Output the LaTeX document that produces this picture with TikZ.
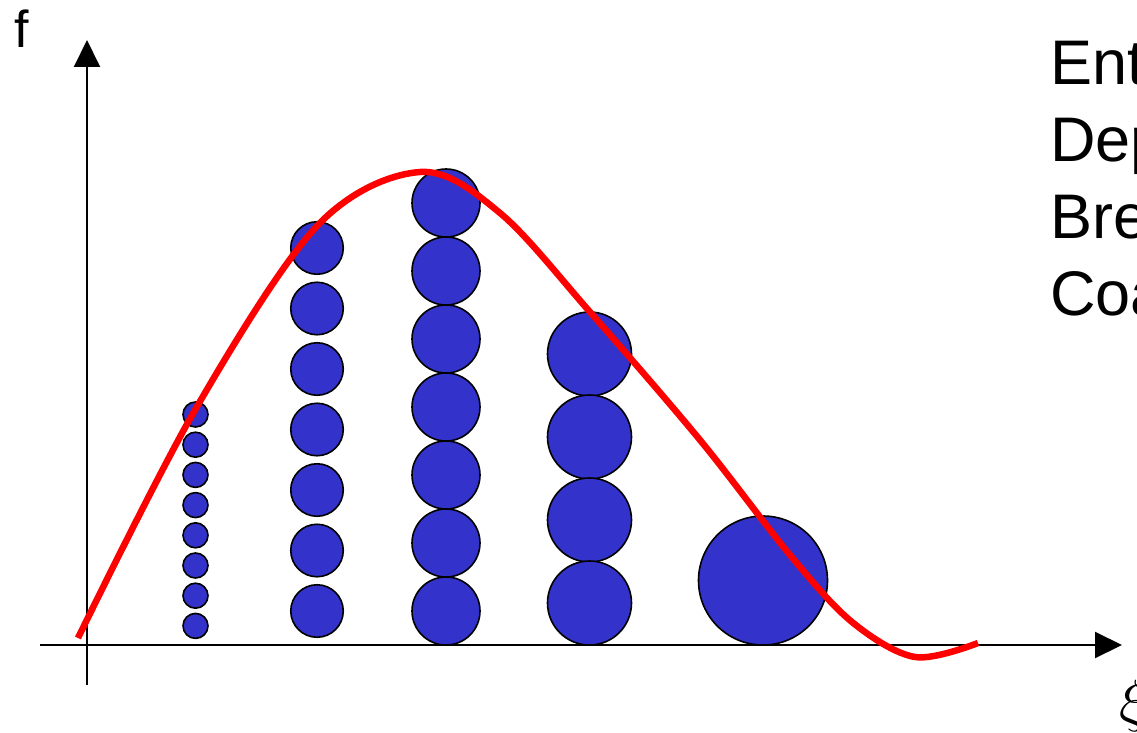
\documentclass[tikz,border=0pt]{standalone}
\usepackage{fix-cm}
\usepackage{fontspec}
\setmainfont{Liberation Sans}
\usetikzlibrary{arrows.meta}
\definecolor{bubblue}{RGB}{51,51,204}
\tikzset{
  axis/.style={line width=2pt,-{Triangle[length=27pt,width=26pt]}},
  bub/.style={circle,draw=black,line width=1.6pt,fill=bubblue,inner sep=0pt,minimum size=#1},
  curve/.style={red,line width=6.5pt},
  lbl/.style={anchor=base west,inner sep=0pt,font=\fontsize{63}{76}\selectfont}
}
\begin{document}
\begin{tikzpicture}[x=1pt,y=-1pt]
\useasboundingbox (0,0) rectangle (1137,733);
% axes
\coordinate (ybot) at (87,685);
\coordinate (ytop) at (87,40);
\coordinate (xl) at (40,645);
\coordinate (xr) at (1122,645);
\draw[axis] (ybot) -- (ytop);
\draw[axis] (xl) -- (xr);
% column 1
\foreach \i in {0,...,7} {
  \node[bub=25pt] (a\i) at (195.5,{414.5+30.2*\i}) {};
}
% column 2
\foreach \i in {0,...,6} {
  \node[bub=52.5pt] (b\i) at (317,{248+60.5*\i}) {};
}
% column 3
\foreach \i in {0,...,6} {
  \node[bub=68pt] (c\i) at (446,{203+68*\i}) {};
}
% column 4
\foreach \i in {0,...,3} {
  \node[bub=84pt] (d\i) at (589.5,{354+83*\i}) {};
}
% column 5
\node[bub=129pt] (e0) at (763,580.5) {};
% curve
\draw[curve] plot[smooth,tension=0.55] coordinates {
 (78,638) (195,410) (317,226) (420,172) (500,213) (590,312)
 (700,440) (790,555) (852,622) (915,657) (978,643)};
% labels
\node[anchor=base west,inner sep=0pt,font=\fontsize{52}{60}\selectfont] (fl) at (14,48) {f};
\node[lbl] (t1) at (1050,85) {Ent};
\node[lbl] (t2) at (1050,161) {Dep};
\node[lbl] (t3) at (1050,238) {Bre};
\node[lbl] (t4) at (1050,315) {Coa};
\node[anchor=base west,inner sep=0pt,font=\fontsize{58}{60}\selectfont] (xi) at (1119,720) {$\xi$};
\end{tikzpicture}
\end{document}
